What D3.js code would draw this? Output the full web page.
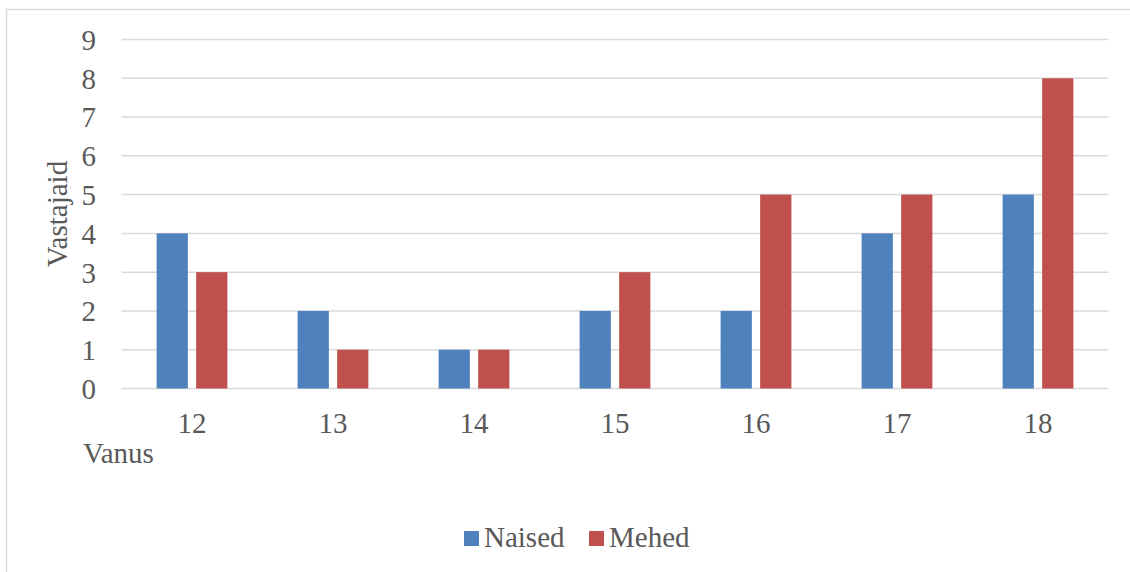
<!DOCTYPE html>
<html>
<head>
<meta charset="utf-8">
<script src="https://cdn.jsdelivr.net/npm/d3@7/dist/d3.min.js"></script>
<style>
  html, body { margin: 0; padding: 0; background: #ffffff; }
  svg { display: block; }
</style>
</head>
<body>
<svg id="chart" width="1130" height="572"></svg>
<script>
// Respondents by age and gender
const ages = ["12", "13", "14", "15", "16", "17", "18"];
const seriesNames = ["Naised", "Mehed"];
const naised = [4, 2, 1, 2, 2, 4, 5];
const mehed = [3, 1, 1, 3, 5, 5, 8];
const yTicks = [0, 1, 2, 3, 4, 5, 6, 7, 8, 9];
const colors = ["#4F81BD", "#C0504D"];

const values = [naised, mehed];

const svg = d3.select("#chart");
const W = 1130, H = 572;
const plot = { left: 121.5, right: 1108.5, top: 39.5, bottom: 388.5 };
const fontSize = 29;
const FONT = "'Liberation Serif', 'Times New Roman', serif";

function styleText(sel) {
  sel.style("font-family", FONT)
     .style("font-size", fontSize + "px")
     .style("fill", "#595959");
}

// chart frame
svg.append("rect")
  .attr("x", 6.5).attr("y", 9.5)
  .attr("width", W + 10).attr("height", H + 10)
  .attr("fill", "#ffffff")
  .attr("stroke", "#d9d9d9")
  .attr("stroke-width", 1.5);

const x0 = d3.scaleBand().domain(ages).range([plot.left, plot.right]).padding(0);
const x1 = d3.scaleBand().domain(seriesNames)
  .range([x0.step() * 0.249, x0.step() * 0.751])
  .paddingInner(0.21).paddingOuter(0);
const y = d3.scaleLinear().domain([0, 9]).range([plot.bottom, plot.top]);

// gridlines
svg.append("g").selectAll("line")
  .data(yTicks)
  .join("line")
  .attr("x1", plot.left).attr("x2", plot.right)
  .attr("y1", d => y(d)).attr("y2", d => y(d))
  .attr("stroke", "#d9d9d9")
  .attr("stroke-width", 1.5);

// y axis labels
const yAxis = d3.axisLeft(y).tickValues(yTicks).tickSize(0).tickPadding(0).tickFormat(d3.format("d"));
const gy = svg.append("g").attr("transform", `translate(${96},0)`).call(yAxis);
gy.select(".domain").remove();
gy.selectAll("text").call(styleText).attr("dy", "0.34em");

// x axis labels
const xAxis = d3.axisBottom(x0).tickSize(0).tickPadding(0);
const gx = svg.append("g").attr("transform", `translate(0,${433})`).call(xAxis);
gx.select(".domain").remove();
gx.selectAll("text").call(styleText).attr("dy", 0);

// bars
const groups = svg.append("g").selectAll("g")
  .data(ages)
  .join("g")
  .attr("transform", d => `translate(${x0(d)},0)`);

groups.selectAll("rect")
  .data((d, i) => seriesNames.map((s, j) => ({ s, v: values[j][i], c: colors[j] })))
  .join("rect")
  .attr("x", d => x1(d.s))
  .attr("width", x1.bandwidth())
  .attr("y", d => y(d.v))
  .attr("height", d => y(0) - y(d.v))
  .attr("fill", d => d.c);

// axis titles
svg.append("text")
  .attr("x", 83).attr("y", 463)
  .call(styleText)
  .text("Vanus");

svg.append("text")
  .attr("transform", `translate(67,${(plot.top + plot.bottom) / 2}) rotate(-90)`)
  .attr("text-anchor", "middle")
  .call(styleText)
  .text("Vastajaid");

// legend
const legendItems = [
  { name: seriesNames[0], color: colors[0], x: 464 },
  { name: seriesNames[1], color: colors[1], x: 589 }
];
const lg = svg.append("g").selectAll("g")
  .data(legendItems)
  .join("g")
  .attr("transform", d => `translate(${d.x},0)`);
lg.append("rect")
  .attr("x", 0).attr("y", 531)
  .attr("width", 15).attr("height", 15)
  .attr("fill", d => d.color);
lg.append("text")
  .attr("x", 20).attr("y", 547)
  .call(styleText)
  .text(d => d.name);
</script>
</body>
</html>
